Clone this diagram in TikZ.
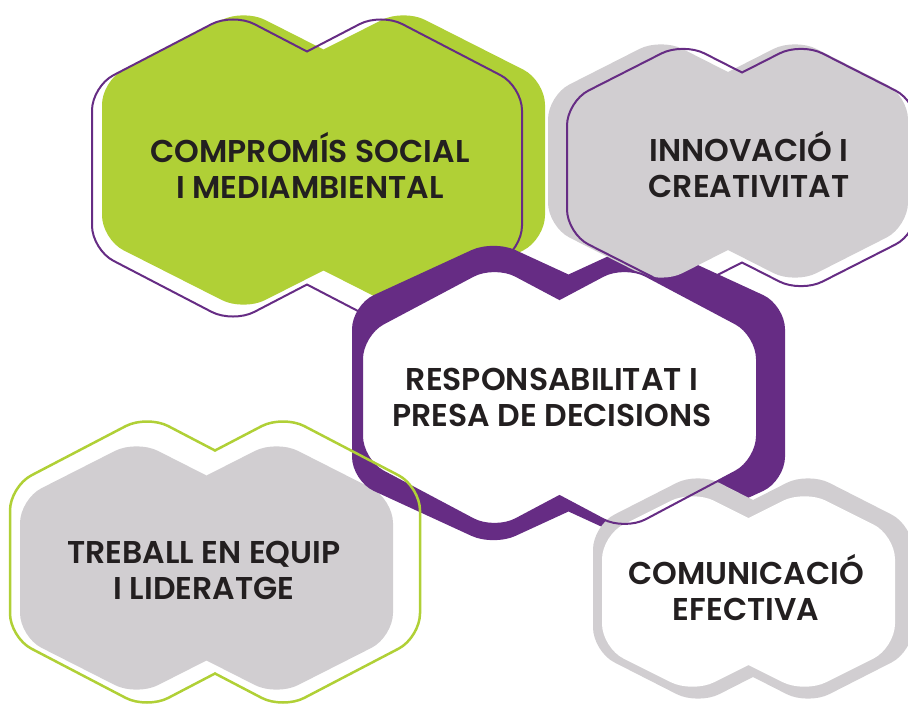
\documentclass[tikz,border=0pt]{standalone}
\usepackage{fontspec}
\setmainfont{Poppins}[BoldFont={Poppins SemiBold}]
\usepackage{tikz}
\usetikzlibrary{positioning}
\definecolor{hexgreen}{RGB}{176,208,54}
\definecolor{hexpurple}{RGB}{102,44,132}
\definecolor{hexgrey}{RGB}{209,206,209}
\definecolor{hextext}{RGB}{35,31,32}

% double hexagon: [style] centre x, centre y, half width, peak offset, half height, notch
\newcommand{\hexpair}[7][]{%
  \pgfmathsetmacro\hsh{#6-(#6-#7)*(#4-#5)/#5}%
  \path[rounded corners=24,#1] (#2-#4,#3) -- (#2-#4,#3-\hsh) -- (#2-#5,#3-#6)
    [sharp corners] -- (#2,#3-#7) [rounded corners=24] -- (#2+#5,#3-#6)
    -- (#2+#4,#3-\hsh) -- (#2+#4,#3+\hsh) -- (#2+#5,#3+#6)
    [sharp corners] -- (#2,#3+#7) [rounded corners=24] -- (#2-#5,#3+#6)
    -- (#2-#4,#3+\hsh) -- cycle;}

\begin{document}
\begin{tikzpicture}[x=1pt,y=-1pt,
    hextxt/.style={text=hextext, align=center, font=\fontsize{31.5}{36}\selectfont\bfseries},
    thinline/.style={draw=hexpurple, line width=2pt}]
    \useasboundingbox (0,0) rectangle (908,707);
    \clip (0,0) rectangle (908,707);

    % filled shapes, back to front
    \hexpair[fill=hexgreen]{323.5}{160}{221.5}{80}{151}{110.5}
    \hexpair[fill=hexgrey]{206.5}{568}{186.5}{70}{128}{92.5}
    \hexpair[fill=hexpurple]{568.5}{393}{216.5}{75}{153}{118.5}
    \hexpair[fill=white]{559.5}{397.5}{197.5}{65}{133}{98.5}
    \hexpair[fill=hexgrey]{728}{161}{180}{67}{123}{89}
    \hexpair[fill=hexgrey]{753}{588.5}{160}{55}{116.5}{88.5}
    \hexpair[fill=white]{748.5}{591.5}{146.5}{56}{101.5}{73.5}

    % thin outlines on top
    \hexpair[thinline]{307}{168}{215}{74}{155}{116.5}
    \hexpair[thinline]{742}{167.5}{175}{59}{125}{95}
    \hexpair[thinline]{559.5}{397.5}{197.5}{65}{133}{98.5}
    \hexpair[draw=hexgreen, line width=2.5pt]{215}{562}{205}{68}{147}{111.5}

    % texts
    \node[hextxt] (social) at (310,165) {COMPROMÍS SOCIAL\\I MEDIAMBIENTAL};
    \node[hextxt] (innov) at (749,165) {INNOVACIÓ I\\CREATIVITAT};
    \node[hextxt] (resp) at (552,397) {RESPONSABILITAT I\\PRESA DE DECISIONS};
    \node[hextxt] (team) at (204,570) {TREBALL EN EQUIP\\I LIDERATGE};
    \node[hextxt] (comm) at (746,588) {COMUNICACIÓ\\EFECTIVA};
\end{tikzpicture}
\end{document}
